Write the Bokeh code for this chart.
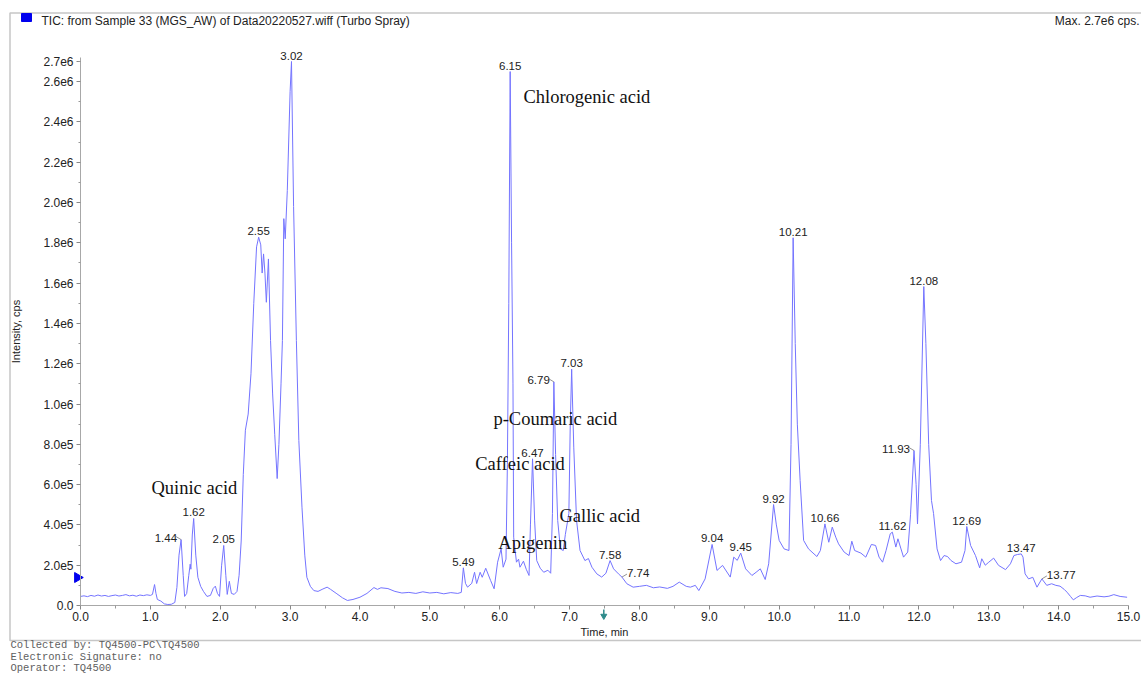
import math
from bokeh.plotting import figure
from bokeh.models import Range1d, FixedTicker, Label, ColumnDataSource
from bokeh.core.properties import value
from bokeh.embed import file_html
from bokeh.resources import INLINE

# ---------------- data ----------------
time_min = [
    0.00, 0.05, 0.10, 0.15, 0.20, 0.25, 0.30, 0.35, 0.40, 0.45, 0.50, 0.55, 0.60, 0.65, 0.70,
    0.75, 0.80, 0.85, 0.90, 0.95, 1.00, 1.03, 1.06, 1.08, 1.10, 1.15, 1.20, 1.25, 1.30, 1.35,
    1.38, 1.41, 1.44, 1.47, 1.49, 1.52, 1.55, 1.57, 1.58, 1.60, 1.62, 1.65, 1.68, 1.72, 1.76,
    1.81, 1.86, 1.90, 1.93, 1.96, 1.99, 2.02, 2.05, 2.08, 2.10, 2.13, 2.16, 2.20, 2.24, 2.27,
    2.30, 2.33, 2.36, 2.40, 2.44, 2.48, 2.52, 2.55, 2.58, 2.60, 2.62, 2.64, 2.66, 2.69, 2.72,
    2.75, 2.78, 2.815, 2.84, 2.87, 2.89, 2.91, 2.93, 2.96, 3.00, 3.02, 3.05, 3.09, 3.125, 3.17,
    3.21, 3.24, 3.29, 3.34, 3.40, 3.47, 3.53, 3.58, 3.67, 3.75, 3.82, 3.90, 4.00, 4.10, 4.20,
    4.25, 4.30, 4.40, 4.50, 4.60, 4.70, 4.80, 4.90, 5.00, 5.10, 5.20, 5.30, 5.40, 5.45, 5.48,
    5.51, 5.54, 5.60, 5.64, 5.67, 5.72, 5.75, 5.80, 5.87, 5.92, 5.97, 6.02, 6.05, 6.09, 6.11,
    6.13, 6.15, 6.17, 6.19, 6.20, 6.24, 6.27, 6.29, 6.34, 6.38, 6.42, 6.44, 6.47, 6.50, 6.53,
    6.58, 6.63, 6.69, 6.73, 6.755, 6.775, 6.80, 6.83, 6.87, 6.91, 6.94, 6.99, 7.01, 7.03, 7.06,
    7.10, 7.15, 7.22, 7.27, 7.32, 7.39, 7.46, 7.52, 7.58, 7.63, 7.70, 7.75, 7.82, 7.91, 8.00,
    8.10, 8.20, 8.29, 8.40, 8.48, 8.57, 8.67, 8.73, 8.80, 8.85, 8.94, 9.04, 9.11, 9.19, 9.30,
    9.35, 9.40, 9.45, 9.52, 9.61, 9.67, 9.73, 9.80, 9.85, 9.92, 9.96, 10.00, 10.07, 10.14, 10.17,
    10.20, 10.23, 10.26, 10.30, 10.35, 10.42, 10.47, 10.54, 10.59, 10.655, 10.71, 10.76, 10.81, 10.85, 10.93,
    11.00, 11.04, 11.08, 11.17, 11.24, 11.32, 11.38, 11.43, 11.48, 11.53, 11.59, 11.62, 11.67, 11.70, 11.74,
    11.78, 11.84, 11.88, 11.93, 11.96, 11.98, 12.02, 12.07, 12.10, 12.14, 12.18, 12.21, 12.26, 12.31, 12.36,
    12.41, 12.46, 12.53, 12.61, 12.66, 12.685, 12.74, 12.81, 12.87, 12.90, 12.95, 13.00, 13.07, 13.14, 13.24,
    13.31, 13.36, 13.41, 13.465, 13.49, 13.52, 13.57, 13.63, 13.69, 13.76, 13.83, 13.90, 13.96, 14.02, 14.08,
    14.12, 14.17, 14.21, 14.26, 14.31, 14.38, 14.45, 14.55, 14.65, 14.72, 14.79, 14.88, 14.98,
]
intensity = [
    45000, 48000, 44000, 50000, 46000, 52000, 47000, 50000, 45000, 49000, 52000, 47000, 50000, 54000, 48000,
    51000, 46000, 52000, 49000, 53000, 50000, 55000, 104000, 60000, 30000, 22000, 8000, 5000, 6000, 15000,
    90000, 250000, 327000, 150000, 45000, 60000, 150000, 205000, 180000, 350000, 432000, 250000, 140000, 95000, 70000,
    45000, 50000, 85000, 96000, 60000, 45000, 200000, 298000, 150000, 55000, 120000, 60000, 55000, 70000, 150000,
    320000, 650000, 870000, 950000, 1150000, 1500000, 1780000, 1828000, 1790000, 1650000, 1745000, 1650000, 1505000, 1720000, 1315000,
    1050000, 850000, 630000, 800000, 1100000, 1315000, 1920000, 1820000, 2060000, 2550000, 2700000, 1980000, 1315000, 819000, 488000,
    250000, 140000, 95000, 74000, 70000, 82000, 91000, 80000, 58000, 38000, 25000, 30000, 41000, 60000, 89000,
    80000, 88000, 84000, 70000, 62000, 65000, 60000, 68000, 62000, 65000, 58000, 64000, 60000, 65000, 187000,
    110000, 91000, 110000, 165000, 109000, 165000, 140000, 185000, 124000, 83000, 215000, 281000, 190000, 230000, 700000,
    1500000, 2650000, 1800000, 1100000, 339000, 215000, 230000, 190000, 220000, 180000, 149000, 400000, 728000, 420000, 223000,
    185000, 165000, 175000, 160000, 456000, 1110000, 750000, 422000, 280000, 273000, 353000, 457000, 900000, 1173000, 786000,
    422000, 273000, 223000, 233000, 190000, 157000, 141000, 160000, 223000, 182000, 157000, 141000, 108000, 91000, 95000,
    100000, 88000, 92000, 85000, 95000, 116000, 95000, 91000, 100000, 74000, 132000, 303000, 174000, 199000, 141000,
    240000, 224000, 260000, 182000, 149000, 165000, 182000, 129000, 207000, 501000, 400000, 323000, 281000, 273000, 800000,
    1825000, 1300000, 900000, 620000, 323000, 281000, 265000, 243000, 273000, 405000, 314000, 389000, 339000, 306000, 265000,
    248000, 319000, 273000, 260000, 240000, 303000, 298000, 240000, 215000, 273000, 356000, 364000, 290000, 331000, 285000,
    240000, 265000, 450000, 769000, 600000, 405000, 800000, 1583000, 1300000, 800000, 521000, 456000, 281000, 223000, 248000,
    243000, 223000, 207000, 215000, 273000, 392000, 298000, 248000, 187000, 232000, 200000, 215000, 235000, 199000, 178000,
    207000, 248000, 253000, 256000, 240000, 157000, 132000, 140000, 91000, 132000, 100000, 108000, 100000, 96000, 80000,
    66000, 45000, 28000, 40000, 50000, 48000, 41000, 47000, 43000, 46000, 54000, 45000, 41000,
]

peak_labels = ["1.44", "1.62", "2.05", "2.55", "3.02", "5.49", "6.15", "6.47", "6.79", "7.03", "7.58", "7.74",
               "9.04", "9.45", "9.92", "10.21", "10.66", "11.62", "11.93", "12.08", "12.69", "13.47", "13.77"]
peak_rt = [1.44, 1.62, 2.05, 2.55, 3.02, 5.48, 6.15, 6.47, 6.775, 7.03, 7.58, 7.75,
           9.04, 9.45, 9.92, 10.20, 10.655, 11.62, 11.93, 12.07, 12.685, 13.465, 13.76]
peak_height = [327000, 432000, 298000, 1828000, 2700000, 187000, 2650000, 728000, 1110000, 1173000, 223000, 141000,
               303000, 260000, 501000, 1825000, 405000, 364000, 769000, 1583000, 392000, 256000, 132000]

compound_names = ["Quinic acid", "Chlorogenic acid", "p-Coumaric acid", "Caffeic acid", "Gallic acid", "Apigenin"]
compound_rt = [1.016, 6.34, 5.91, 5.65, 6.855, 5.98]
compound_level = [583000, 2526000, 928000, 700000, 442000, 308000]

x_tick_values = list(range(16))
x_tick_labels = ["%.1f" % v for v in x_tick_values]
y_tick_values = [0, 200000, 400000, 600000, 800000, 1000000, 1200000, 1400000, 1600000,
                 1800000, 2000000, 2200000, 2400000, 2600000, 2700000]
y_tick_labels = ["0.0", "2.0e5", "4.0e5", "6.0e5", "8.0e5", "1.0e6", "1.2e6", "1.4e6", "1.6e6",
                 "1.8e6", "2.0e6", "2.2e6", "2.4e6", "2.6e6", "2.7e6"]
y_minor = [100000 * k for k in range(1, 28, 2)]

title_text = "TIC: from Sample 33 (MGS_AW) of Data20220527.wiff (Turbo Spray)"
max_text = "Max. 2.7e6 cps."
footer_lines = ["Collected by: TQ4500-PC\\TQ4500", "Electronic Signature: no", "Operator: TQ4500"]

# ---------------- geometry ----------------
W, H = 1141, 675
OFF = 0                      # the figure is rendered at the page origin
X0, X15 = 80, 1128           # page px of 0 min and 15 min
Y0, YTOP = 605, 61           # page px of 0 and 2.7e6
PPX = (X15 - X0) / 15.0
PPY = (Y0 - YTOP) / 2.7e6


def dx(px):
    return (px - X0) / PPX


def dy(py):
    return (Y0 - py) / PPY


p = figure(width=W, height=H, output_backend="svg", toolbar_location=None,
           x_range=Range1d(dx(OFF), dx(OFF + W)), y_range=Range1d(dy(OFF + H), dy(OFF)),
           min_border=0, min_border_left=0, min_border_right=0, min_border_top=0, min_border_bottom=0)
p.xgrid.visible = False
p.ygrid.visible = False
p.outline_line_color = None
p.background_fill_color = "white"
p.border_fill_color = "white"

LABEL_FONT = "Liberation Sans"
AX_COL = "#a8a8a8"

xa = p.xaxis[0]
xa.fixed_location = 0
xa.bounds = (0, 15)
xa.ticker = FixedTicker(ticks=x_tick_values, minor_ticks=[v + 0.5 for v in range(15)])
xa.major_label_overrides = {v: s for v, s in zip(x_tick_values, x_tick_labels)}
xa.axis_line_color = AX_COL
xa.major_tick_line_color = "#888888"
xa.minor_tick_line_color = "#999999"
xa.major_tick_out = 4
xa.major_tick_in = 0
xa.minor_tick_out = 3
xa.minor_tick_in = 0
xa.major_label_standoff = 2
xa.major_label_text_font = LABEL_FONT
xa.major_label_text_font_size = "12px"
xa.major_label_text_color = "#222222"
xa.axis_label = "Time, min"
xa.axis_label_text_font = LABEL_FONT
xa.axis_label_text_font_size = "11px"
xa.axis_label_text_font_style = "normal"
xa.axis_label_text_color = "#222222"
xa.axis_label_standoff = 2

ya = p.yaxis[0]
ya.fixed_location = 0
ya.bounds = (0, 2720000)
ya.ticker = FixedTicker(ticks=y_tick_values, minor_ticks=y_minor)
ya.major_label_overrides = {v: s for v, s in zip(y_tick_values, y_tick_labels)}
ya.axis_line_color = AX_COL
ya.major_tick_line_color = "#888888"
ya.minor_tick_line_color = "#999999"
ya.major_tick_out = 4
ya.major_tick_in = 0
ya.minor_tick_out = 2
ya.minor_tick_in = 0
ya.major_label_standoff = 3
ya.major_label_text_font = LABEL_FONT
ya.major_label_text_font_size = "12px"
ya.major_label_text_color = "#222222"
ya.axis_label = "Intensity, cps"
ya.axis_label_text_font = LABEL_FONT
ya.axis_label_text_font_size = "11px"
ya.axis_label_text_font_style = "normal"
ya.axis_label_text_color = "#222222"
ya.axis_label_standoff = 18

# outer frame box (top, left, bottom)
p.line(x=[dx(1300), dx(9.5), dx(9.5), dx(1300)], y=[dy(12.5), dy(12.5), dy(640), dy(640)],
       line_color="#c6c6c6", line_width=1.5)

# chromatogram trace
src = ColumnDataSource(data=dict(t=time_min, i=intensity))
p.line("t", "i", source=src, line_color="#7474ff", line_width=1)

# peak labels
side = {"1.44": "left", "6.79": "left", "11.93": "left", "7.74": "right", "13.77": "right"}
groups = {"center": ([], [], []), "left": ([], [], []), "right": ([], [], [])}
for lab, rt, h in zip(peak_labels, peak_rt, peak_height):
    g = side.get(lab, "center")
    groups[g][0].append(rt)
    groups[g][1].append(h)
    groups[g][2].append(lab)

num_font = value(LABEL_FONT)
p.text(x=groups["center"][0], y=groups["center"][1], text=groups["center"][2],
       text_align="center", text_baseline="bottom", y_offset=-2,
       text_font=num_font, text_font_size="11.5px", text_color="#222222")
p.text(x=groups["left"][0], y=groups["left"][1], text=groups["left"][2],
       text_align="right", text_baseline="bottom", x_offset=-4, y_offset=2,
       text_font=num_font, text_font_size="11.5px", text_color="#222222")
p.text(x=groups["right"][0], y=groups["right"][1], text=groups["right"][2],
       text_align="left", text_baseline="bottom", x_offset=5, y_offset=0,
       text_font=num_font, text_font_size="11.5px", text_color="#222222")

# leader lines for side labels
x0s, y0s, x1s, y1s = [], [], [], []
for rt, h in zip(groups["left"][0], groups["left"][1]):
    x0s.append(rt); y0s.append(h); x1s.append(rt - 5 / PPX); y1s.append(h + 3 / PPY)
for rt, h in zip(groups["right"][0], groups["right"][1]):
    x0s.append(rt); y0s.append(h); x1s.append(rt + 5 / PPX); y1s.append(h + 3 / PPY)
p.segment(x0=x0s, y0=y0s, x1=x1s, y1=y1s, line_color="#777777", line_width=0.8)

# compound annotations
p.text(x=compound_rt, y=compound_level, text=compound_names, text_align="left", text_baseline="middle",
       text_font=value("Liberation Serif"), text_font_size="18.5px", text_color="#111111")

# header
p.rect(x=[dx(26)], y=[dy(17)], width=10, height=8, width_units="screen", height_units="screen",
       fill_color="#0000ee", line_color="#0000ee")
p.add_layout(Label(x=dx(41), y=dy(20), text=title_text, text_align="left", text_baseline="middle",
                   text_font=LABEL_FONT, text_font_size="12px", text_color="#222222"))
p.add_layout(Label(x=dx(1139), y=dy(20), text=max_text, text_align="right", text_baseline="middle",
                   text_font=LABEL_FONT, text_font_size="12px", text_color="#222222"))

# y-axis marker triangle and time-axis arrow
p.scatter(x=[dx(77)], y=[dy(577)], marker="triangle", angle=-math.pi / 2, size=10,
          fill_color="#0000ee", line_color="#0000ee")
p.segment(x0=[7.49], y0=[dy(609)], x1=[7.49], y1=[dy(614)], line_color="#2e8b8b", line_width=1.5)
p.scatter(x=[7.49], y=[dy(615.5)], marker="inverted_triangle", size=6,
          fill_color="#2e8b8b", line_color="#2e8b8b")

# footer
for k, (line, py) in enumerate(zip(footer_lines, [644, 656, 667])):
    p.add_layout(Label(x=dx(10), y=dy(py), text=line, text_align="left", text_baseline="middle",
                       text_font="Liberation Mono", text_font_size="10.5px", text_color="#606060"))

open("out.html", "w").write(file_html(p, INLINE))
